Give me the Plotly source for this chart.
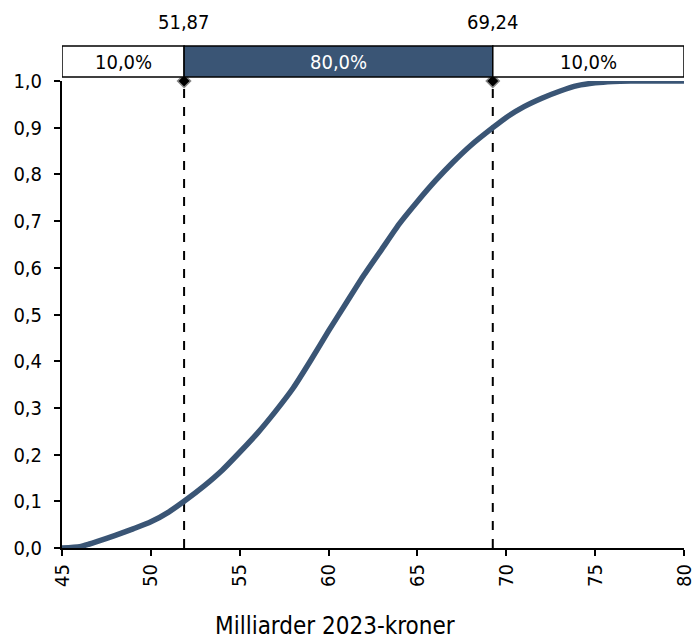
import plotly.graph_objects as go

# CDF data (Milliarder 2023-kroner, cumulative probability)
x_vals = [45, 46, 46.5, 47, 48, 49, 50, 51, 51.87, 53, 54, 55, 56, 57, 58, 59, 60, 61, 62,
          63, 64, 65, 66, 67, 68, 69.24, 70, 71, 72, 73, 74, 75, 76, 77, 78, 80]
y_vals = [0.0, 0.003, 0.008, 0.014, 0.027, 0.041, 0.056, 0.077, 0.10, 0.133, 0.166, 0.205,
          0.246, 0.292, 0.342, 0.402, 0.465, 0.525, 0.585, 0.64, 0.695, 0.742, 0.786, 0.826,
          0.862, 0.90, 0.922, 0.945, 0.963, 0.978, 0.99, 0.996, 0.999, 1.0, 1.0, 1.0]

p10 = 51.87
p90 = 69.24
x_min, x_max = 45, 80
band_edges = [x_min, p10, p90, x_max]
band_shares = [10.0, 80.0, 10.0]
pct_labels = ["10,0%", "80,0%", "10,0%"]
quant_labels = ["51,87", "69,24"]
x_title = "Milliarder 2023-kroner"

blue = "#3a5575"
font = "DejaVu Sans Condensed, DejaVu Sans"

fig = go.Figure()

# dashed quantile lines
for q in [p10, p90]:
    fig.add_trace(go.Scatter(x=[q, q], y=[0, 1], mode="lines",
                             line=dict(color="black", width=2, dash="dash"),
                             hoverinfo="skip", showlegend=False, cliponaxis=False))

fig.add_trace(go.Scatter(x=x_vals, y=y_vals, mode="lines",
                         line=dict(color=blue, width=5.5, shape="spline", smoothing=0.6),
                         showlegend=False, cliponaxis=False))

fig.add_trace(go.Scatter(x=[p10, p90], y=[1, 1], mode="markers",
                         marker=dict(symbol="diamond", size=10, color="black",
                                     line=dict(color="#888888", width=1.5)),
                         showlegend=False, cliponaxis=False))

band_y0, band_y1 = 1.0085, 1.075
for i in range(3):
    fill = blue if i == 1 else "white"
    fig.add_shape(type="rect", xref="x", yref="paper",
                  x0=band_edges[i], x1=band_edges[i + 1], y0=band_y0, y1=band_y1,
                  fillcolor=fill, line=dict(color="black", width=1.5), layer="above")
    fig.add_annotation(x=(band_edges[i] + band_edges[i + 1]) / 2, y=(band_y0 + band_y1) / 2,
                       xref="x", yref="paper", text=pct_labels[i], showarrow=False,
                       xanchor="center", yanchor="middle",
                       font=dict(family=font, size=20, color="white" if i == 1 else "black"))

for q, lab in zip([p10, p90], quant_labels):
    fig.add_annotation(x=q, y=1.126, xref="x", yref="paper", text=lab, showarrow=False,
                       xanchor="center", yanchor="middle",
                       font=dict(family=font, size=20, color="black"))

# x-axis title (centred slightly left of the plot centre, as in the original)
fig.add_annotation(x=0.439, y=-0.168, xref="paper", yref="paper", text=x_title,
                   showarrow=False, xanchor="center", yanchor="middle",
                   font=dict(family=font, size=24, color="black"))

fig.update_layout(
    width=694, height=639,
    margin=dict(l=62, r=10, t=81, b=91),
    paper_bgcolor="white", plot_bgcolor="white",
    separators=",.",
    font=dict(family=font, size=20, color="black"),
    xaxis=dict(range=[x_min, x_max], dtick=5, tick0=45, tickangle=-90, automargin=False,
               ticklabeloverflow="allow",
               showline=True, linecolor="black", linewidth=2,
               ticks="outside", ticklen=6, tickwidth=2, tickcolor="black",
               showgrid=False, zeroline=False),
    yaxis=dict(range=[0, 1], dtick=0.1, tickformat=".1f", automargin=False,
               ticklabelstandoff=8,
               showline=True, linecolor="black", linewidth=2,
               ticks="outside", ticklen=6, tickwidth=2, tickcolor="black",
               showgrid=False, zeroline=False),
)

# remove the browser's default 8px body margin so the figure fills the window exactly
fig.write_html("out.html",
               config={"displayModeBar": False},
               post_script="document.body.style.margin='0';"
                           "document.documentElement.style.overflow='hidden';")
